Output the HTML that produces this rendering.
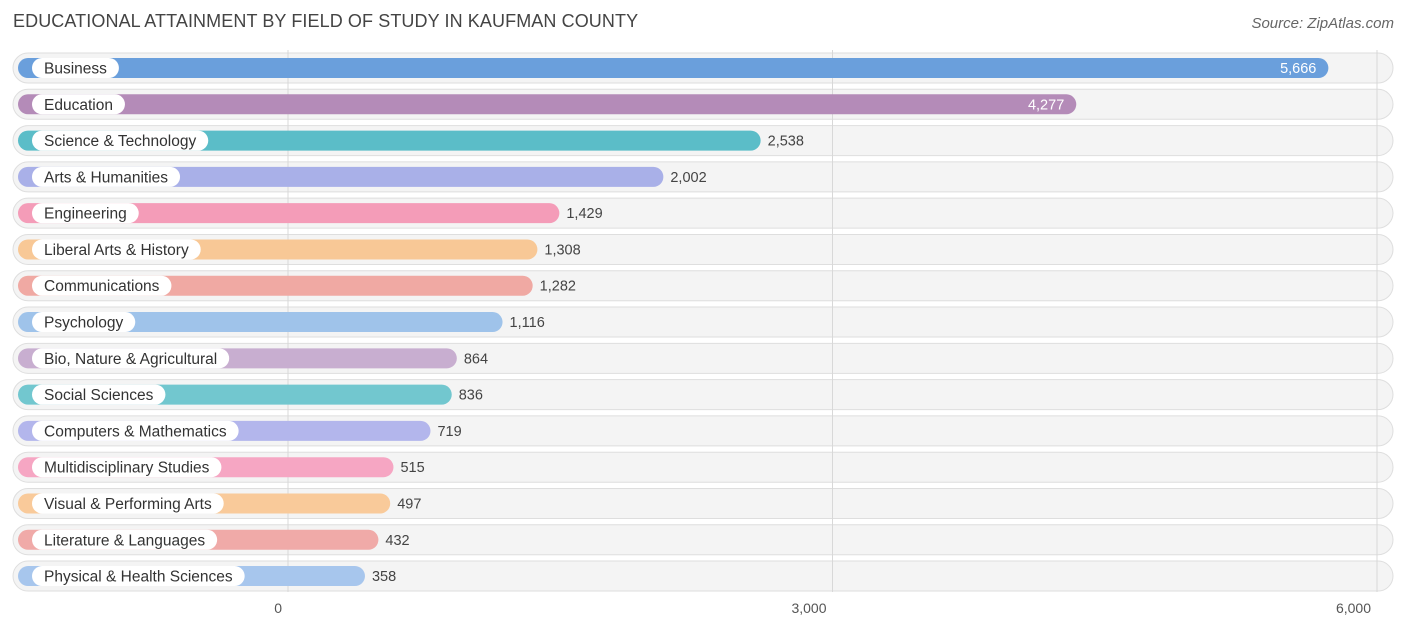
<!DOCTYPE html>
<html><head><meta charset="utf-8"><style>
body{margin:0;background:#fff;font-family:"Liberation Sans",Roboto,sans-serif;}
#wrap{position:relative;width:1406px;height:631px;overflow:hidden;}
.title{position:absolute;left:13px;top:11px;font-size:18px;color:#444;letter-spacing:0.1px}
.src{position:absolute;right:12px;top:15px;font-size:15px;color:#666;font-style:italic}
</style></head><body>
<div id="wrap">
<div class="title">EDUCATIONAL ATTAINMENT BY FIELD OF STUDY IN KAUFMAN COUNTY</div>
<div class="src">Source: ZipAtlas.com</div>
<svg id="svg" width="1406" height="631" style="position:absolute;left:0;top:0"></svg>
</div>
<script>
const categories=["Business","Education","Science & Technology","Arts & Humanities","Engineering","Liberal Arts & History","Communications","Psychology","Bio, Nature & Agricultural","Social Sciences","Computers & Mathematics","Multidisciplinary Studies","Visual & Performing Arts","Literature & Languages","Physical & Health Sciences"];
const values=[5666,4277,2538,2002,1429,1308,1282,1116,864,836,719,515,497,432,358];
const colors=["#6a9fdc","#b48bb8","#5bbdc8","#a9b0e8","#f49cb8","#f8c896","#f0a9a3","#9fc3ea","#c8aed0","#72c7cf","#b3b6ec","#f6a6c3","#f9ca9a","#f0aaa8","#a7c6ed"];
const ticks=[0,3000,6000];
const tickLabels=["0","3,000","6,000"];
const NS="http://www.w3.org/2000/svg";
const svg=document.getElementById('svg');
const x0=288,scale=544.5/3000;
const xs=v=>x0+v*scale;
const rowY=i=>68+i*36.29;
function mk(t,a){const e=document.createElementNS(NS,t);for(const k in a)e.setAttribute(k,a[k]);svg.appendChild(e);return e;}
const fmt=v=>v.toLocaleString('en-US');
// tracks
categories.forEach((c,i)=>{
  const y=rowY(i);
  const tr=mk('rect',{x:13,y:y-15,width:1380,height:30,rx:15,fill:'#f4f4f4',stroke:'#dedede','stroke-width':1});
  
  
});
// grid
ticks.forEach((t,i)=>{
  const g=mk('line',{x1:xs(t),x2:xs(t),y1:50,y2:592,stroke:'#d8d8d8','stroke-width':1});
  
  
  const tl=mk('text',{x:xs(t)-6,y:613,'text-anchor':'end','font-size':14,fill:'#555'});
  tl.textContent=tickLabels[i];
  
  
});
categories.forEach((c,i)=>{
  const y=rowY(i),v=values[i];
  const end=xs(v)+12;
  const b=mk('rect',{x:18,y:y-10,width:end-18,height:20,rx:10,fill:colors[i]});
  
  
  const lt=document.createElementNS(NS,'text');
  lt.setAttribute('x',44);lt.setAttribute('y',y+5.5);lt.setAttribute('font-size',15.5);lt.setAttribute('fill','#333');
  lt.textContent=c;
  svg.appendChild(lt);
  const w=lt.getComputedTextLength();
  const pill=mk('rect',{x:32,y:y-10,width:w+24,height:20,rx:10,fill:'#fff'});
  
  
  svg.appendChild(lt);
  
  
  const inside=v>4000;
  const vt=mk('text',{x:inside?end-12:end+7,y:y+5,'text-anchor':inside?'end':'start','font-size':14.5,fill:inside?'#fff':'#444'});
  vt.textContent=fmt(v);
  
  
});
</script>
</body></html>
